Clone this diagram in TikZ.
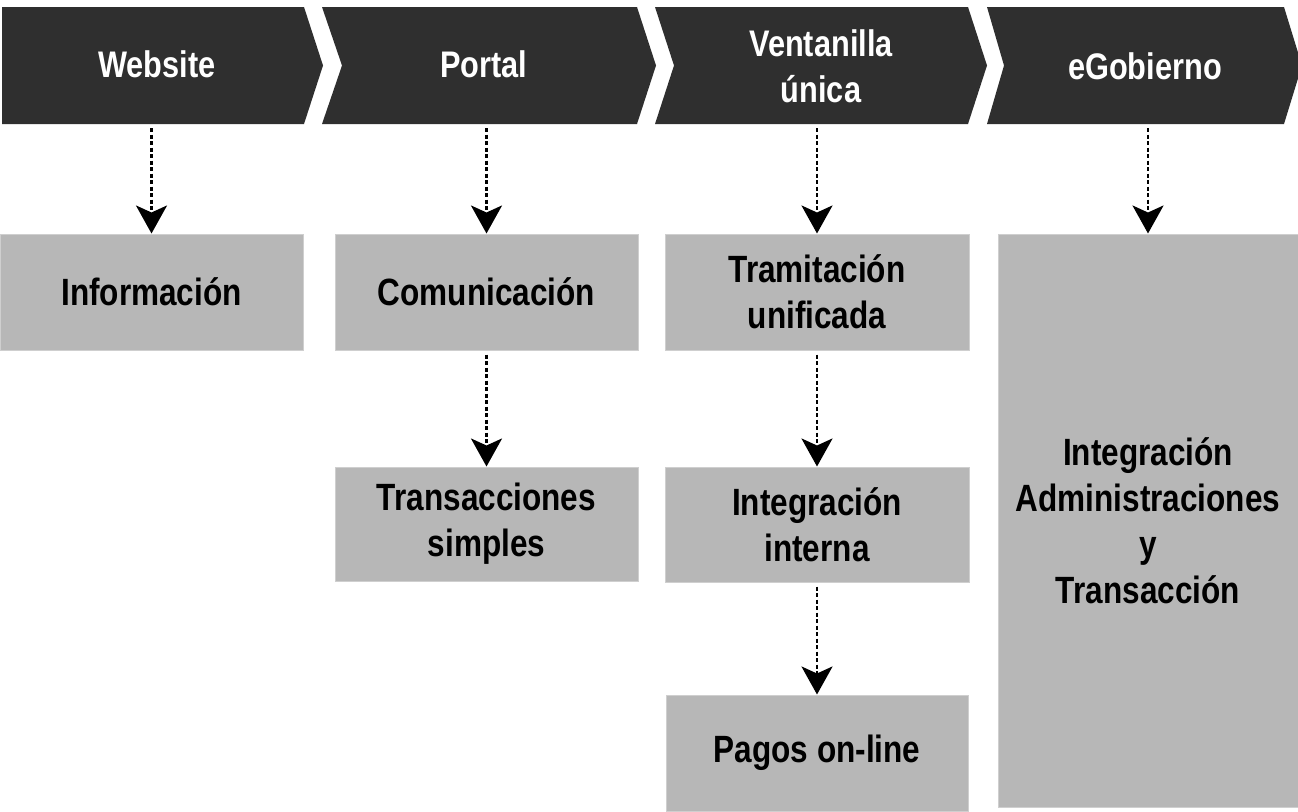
\documentclass[tikz,border=0pt]{standalone}
\usepackage{fontspec}
\setmainfont{Liberation Sans}[FakeStretch=0.83]
\usetikzlibrary{arrows.meta}
\definecolor{chevfill}{HTML}{2F2F2F}
\definecolor{boxfill}{HTML}{B7B7B7}
\definecolor{boxline}{HTML}{CFCFCF}
\tikzset{
  chev/.style={fill=chevfill},
  headtxt/.style={text=white, font=\fontsize{37}{46}\selectfont\bfseries, align=center, inner sep=0pt},
  stagebox/.style={fill=boxfill, draw=boxline, line width=1pt, inner sep=0pt,
    font=\fontsize{38}{46}\selectfont\bfseries, align=center, text=black},
  conn/.style={black, line width=2.5pt, dash pattern=on 4pt off 2.5pt, shorten <=4pt,
    -{Stealth[length=28pt,width=31pt,inset=7pt]}}
}
\begin{document}
\begin{tikzpicture}[x=1pt,y=-1pt]
\clip (0,0) rectangle (1298,811);
\fill[white] (0,0) rectangle (1298,811);
% chevrons
\fill[chev] (2,7) -- (304,7) -- (323,65.5) -- (304,124) -- (2,124) -- cycle;
\fill[chev] (322,7) -- (637,7) -- (656,65.5) -- (637,124) -- (322,124) -- (342,65.5) -- cycle;
\fill[chev] (655,7) -- (968,7) -- (987,65.5) -- (968,124) -- (655,124) -- (674,65.5) -- cycle;
\fill[chev] (987,7) -- (1284,7) -- (1302,65.5) -- (1284,124) -- (987,124) -- (1004,65.5) -- cycle;
\node[headtxt] (t1) at (157,64) {Website};
\node[headtxt] (t2) at (484,64) {Portal};
\node[headtxt] (t3) at (821,66) {Ventanilla\\única};
\node[headtxt] (t4) at (1145,66) {eGobierno};
\coordinate (c1s) at (154,124);
\coordinate (c2s) at (485,124);
\coordinate (c3s) at (818,124);
\coordinate (c4s) at (1149,124);
% boxes
\node[stagebox, minimum width=303pt, minimum height=116pt] (b1) at (151.5,292) {Información};
\node[stagebox, minimum width=303pt, minimum height=116pt] (b2) at (486.5,292) {Comunicación};
\node[stagebox, minimum width=304pt, minimum height=116pt] (b3) at (817,292) {Tramitación\\unificada};
\node[stagebox, minimum width=300pt, minimum height=573pt] (b4) at (1148,520.5) {Integración\\Administraciones\\y\\Transacción};
\node[stagebox, minimum width=303pt, minimum height=114pt] (b5) at (486.5,524) {Transacciones\\simples};
\node[stagebox, minimum width=304pt, minimum height=115pt] (b6) at (817,524.5) {Integración\\interna};
\node[stagebox, minimum width=302pt, minimum height=116pt] (b7) at (817,753) {Pagos on-line};
% connectors
\draw[conn] (b1.north |- c1s) -- (b1.north);
\draw[conn] (b2.north |- c2s) -- (b2.north);
\draw[conn] (b3.north |- c3s) -- (b3.north);
\draw[conn] (b4.north |- c4s) -- (b4.north);
\draw[conn] (b2.south) -- (b5.north);
\draw[conn] (b3.south) -- (b6.north);
\draw[conn] (b6.south) -- (b7.north);
\end{tikzpicture}
\end{document}
